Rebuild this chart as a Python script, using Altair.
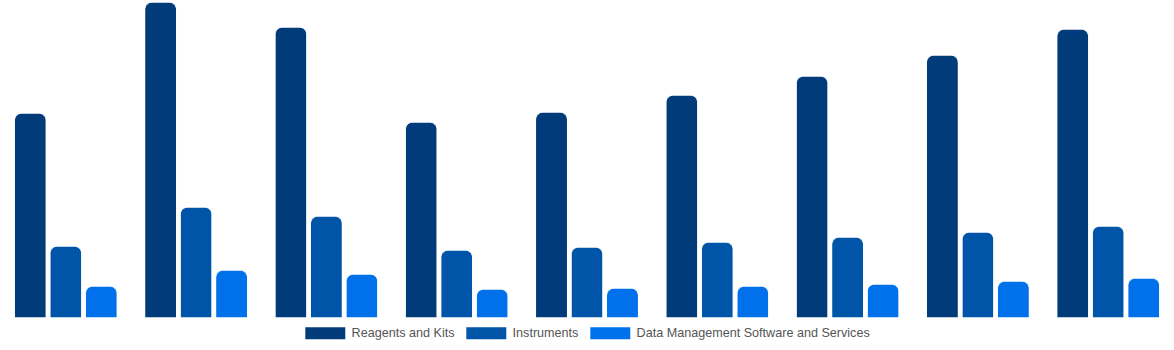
import altair as alt
import pandas as pd

categories = ["2016", "2017", "2018", "2019", "2020", "2021", "2022", "2023", "2024"]
series = ["Reagents and Kits", "Instruments", "Data Management Software and Services"]
reagents = [20.5, 31.6, 29.1, 19.6, 20.6, 22.3, 24.2, 26.3, 28.9]
instruments = [7.2, 11.1, 10.2, 6.8, 7.1, 7.6, 8.1, 8.6, 9.2]
software = [3.2, 4.8, 4.4, 2.9, 3.0, 3.2, 3.4, 3.7, 4.0]
colors = ["#023B7A", "#0055A8", "#0070EB"]

rows = []
for i, c in enumerate(categories):
    for s, vals in zip(series, [reagents, instruments, software]):
        rows.append({"category": c, "series": s, "value": vals[i]})
df = pd.DataFrame(rows)

chart = alt.Chart(df).mark_bar(
    cornerRadiusTopLeft=8, cornerRadiusTopRight=8, stroke="white", strokeWidth=1
).encode(
    x=alt.X("category:N", sort=categories, axis=None,
            scale=alt.Scale(paddingInner=0.21, paddingOuter=0.11)),
    xOffset=alt.XOffset("series:N", sort=series, scale=alt.Scale(paddingInner=0.1)),
    y=alt.Y("value:Q", axis=None, scale=alt.Scale(domain=[0, 31.8], nice=False)),
    color=alt.Color("series:N", sort=series,
                    scale=alt.Scale(domain=series, range=colors),
                    legend=alt.Legend(title=None, orient="none", direction="horizontal",
                                      legendX=319, legendY=327, gridAlign="none",
                                      symbolType="M-3.33,-1L3.33,-1L3.33,1L-3.33,1Z",
                                      symbolSize=144, symbolStrokeWidth=0,
                                      labelFont="Liberation Sans", labelFontSize=12.6,
                                      labelColor="#555555", columnPadding=11,
                                      labelOffset=20, labelLimit=500)),
).properties(width=1174, height=318, padding=0).configure_view(stroke=None)

chart.save("out.html", embed_options={"renderer": "svg", "actions": False})
